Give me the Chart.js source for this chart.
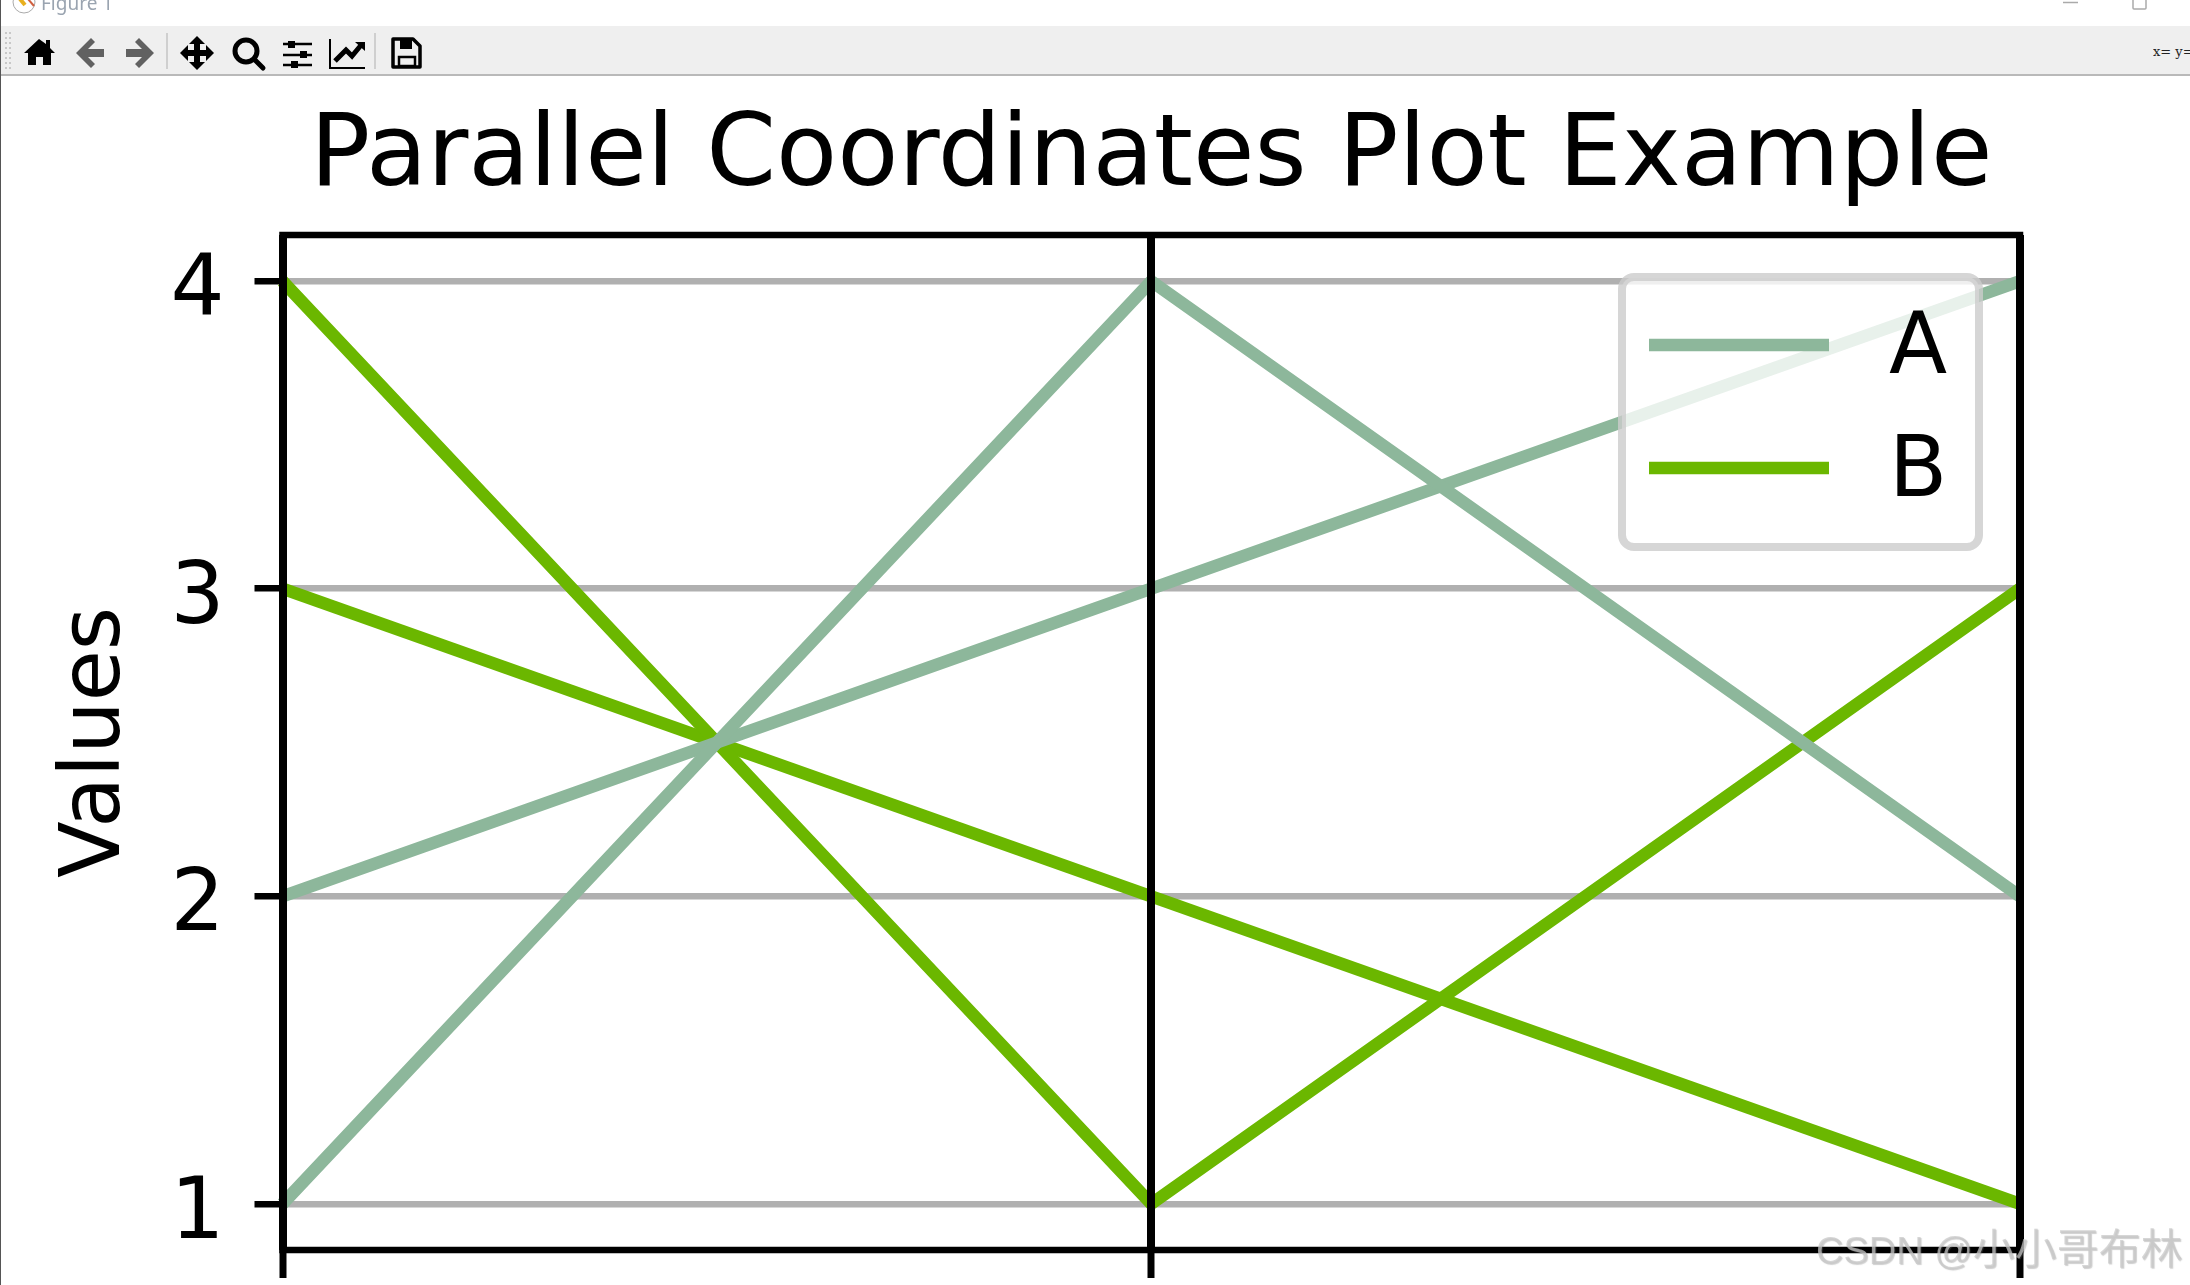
<!DOCTYPE html>
<html>
<head>
<meta charset="utf-8">
<title>Parallel Coordinates Plot Example</title>
<script src="https://cdn.jsdelivr.net/npm/chart.js@4"></script>
<style>
  html, body { margin: 0; padding: 0; background: #fff; overflow: hidden; }
  #wrap { position: relative; width: 2190px; height: 1285px; overflow: hidden; }
  #plot { position: absolute; left: 0; top: 0; }
  #edge { position: absolute; left: 0; top: 0; width: 1px; height: 1285px; background: #555; }
  #winTitle { position: absolute; left: 41px; top: -10px; font: 19px "Noto Sans", sans-serif; color: #9aa4b0; }
  #winIcon { position: absolute; left: 12px; top: -9px; }
  #toolbar { position: absolute; left: 1px; top: 26px; width: 2189px; height: 48px; background: #efefef; border-bottom: 2px solid #b9b9b9; }
  #toolbar svg { position: absolute; left: 0; top: 1.5px; }
  #coords { position: absolute; left: 2152px; top: 18px; font: 13px "DejaVu Serif", serif; color: #222; white-space: pre; width: 37px; overflow: hidden; }
  #mark { position: absolute; left: 1816px; top: 1215px; font: 38px "Liberation Sans", sans-serif; color: rgba(200,200,200,0.72); white-space: nowrap; text-shadow: 1px 1px 1px rgba(120,120,120,0.35); }
  #mark span { font: 42px "Noto Sans CJK SC", sans-serif; }
</style>
</head>
<body>
<div id="wrap">
  <canvas id="plot" width="2190" height="1285"></canvas>
  <div id="edge"></div>
  <svg id="winIcon" width="26" height="24" viewBox="0 0 26 24">
    <circle cx="12" cy="11" r="11" fill="#fff" stroke="#aaa"/>
    <path d="M8 8l5 6" stroke="#e8b020" stroke-width="4"/><path d="M16 8l6 7" stroke="#d06040" stroke-width="2"/>
  </svg>
  <div id="winTitle">Figure 1</div>
  <svg style="position:absolute;left:2060px;top:0" width="90" height="12" viewBox="0 0 90 12">
    <path d="M3 2.5h15" stroke="#aaa" stroke-width="1.5"/>
    <rect x="73" y="-4" width="13" height="13" rx="1" fill="none" stroke="#aaa" stroke-width="1.5"/>
  </svg>
  <div id="toolbar">
    <svg width="460" height="48" viewBox="0 0 460 48">
      <path d="M5 4v38M9 4v38" stroke="#c8c8c8" stroke-width="2" stroke-dasharray="2 3"/>
      <path d="M38 11l-15 14h4v12h8v-8h7v8h8V25h4l-5-5v-8h-4v4z" fill="#000"/>
      <path d="M90 10L75 25l15 15 4-4-7-7h16v-8H87l7-7z" fill="#616161"/>
      <path d="M138 10l15 15-15 15-4-4 7-7h-16v-8h16l-7-7z" fill="#616161"/>
      <path d="M196 8l8 8h-5v6h6v-5l8 8-8 8v-5h-6v6h5l-8 8-8-8h5v-6h-6v5l-8-8 8-8v5h6v-6h-5z" fill="#000"/>
      <circle cx="245" cy="23" r="11" fill="none" stroke="#000" stroke-width="5"/>
      <path d="M253 31l9 9" stroke="#000" stroke-width="5" stroke-linecap="round"/>
      <path d="M282 16h29M282 27h29M282 37h29" stroke="#000" stroke-width="2.5"/>
      <rect x="287" y="13" width="7" height="7" fill="#000"/><rect x="299" y="23" width="7" height="7" fill="#000"/><rect x="290" y="33" width="7" height="7" fill="#000"/>
      <path d="M329 11v29h35" fill="none" stroke="#000" stroke-width="2"/>
      <path d="M334 33l11-11 6 6 10-12" fill="none" stroke="#000" stroke-width="5"/><path d="M354 14h10v9z" fill="#000"/>
      <path d="M392 11h20l7 7v21h-27z" fill="none" stroke="#000" stroke-width="3.5" stroke-linejoin="round"/>
      <rect x="399" y="12" width="12" height="9" fill="#000"/><rect x="398" y="29" width="16" height="9" fill="none" stroke="#000" stroke-width="2.5"/>
      <path d="M166 5v36M374 5v36" stroke="#cfcfcf" stroke-width="2"/>
    </svg>
    <div id="coords">x= y=</div>
  </div>
  <div id="mark">CSDN @<span>小小哥布林</span></div>
</div>
<script>
const categories = ["", "", ""];
const yTicks = [1, 2, 3, 4];
const rowA1 = [1, 4, 2];
const rowA2 = [2, 3, 4];
const rowB1 = [4, 1, 3];
const rowB2 = [3, 2, 1];
const legendLabels = ["A", "B"];

const colorA = "#8db79b";
const colorB = "#6bb700";
const fontFamily = '"DejaVu Sans", sans-serif';

const makeRow = (label, data, color) => ({
  label,
  data,
  borderColor: color,
  borderWidth: 12.5,
  pointRadius: 0,
  tension: 0,
  fill: false,
});

// spines and the legend box sit on top of the lines
const framePlugin = {
  id: "frame",
  afterDraw(chart) {
    const { ctx, chartArea: a } = chart;
    ctx.save();
    ctx.strokeStyle = "#000";
    ctx.lineWidth = 6.5;
    ctx.strokeRect(a.left, a.top, a.right - a.left, a.bottom - a.top);

    ctx.beginPath();
    ctx.roundRect(1622, 277, 357, 270, 12);
    ctx.fillStyle = "rgba(255,255,255,0.8)";
    ctx.fill();
    ctx.strokeStyle = "rgba(204,204,204,0.8)";
    ctx.lineWidth = 8;
    ctx.stroke();

    ctx.font = `85px ${fontFamily}`;
    ctx.textBaseline = "alphabetic";
    ctx.textAlign = "left";
    legendLabels.forEach((label, i) => {
      const y = i === 0 ? 345 : 468;
      ctx.strokeStyle = i === 0 ? colorA : colorB;
      ctx.lineWidth = 12.7;
      ctx.beginPath();
      ctx.moveTo(1649, y);
      ctx.lineTo(1829, y);
      ctx.stroke();
      ctx.fillStyle = "#000";
      ctx.fillText(label, 1889, y + 28);
    });
    ctx.restore();
  },
};

new Chart(document.getElementById("plot"), {
  type: "line",
  data: {
    labels: categories,
    datasets: [
      makeRow("A", rowA1, colorA),
      makeRow("A", rowA2, colorA),
      makeRow("B", rowB1, colorB),
      makeRow("B", rowB2, colorB),
    ],
  },
  options: {
    responsive: false,
    animation: false,
    layout: { padding: { right: 170 } },
    plugins: {
      legend: { display: false },
      tooltip: { enabled: false },
      title: {
        display: true,
        text: "Parallel Coordinates Plot Example",
        color: "#000",
        fullSize: false,
        font: { family: fontFamily, size: 100, weight: "normal", lineHeight: 1 },
        padding: { top: 109, bottom: 26 },
      },
    },
    scales: {
      x: {
        offset: false,
        afterFit(scale) {
          scale.height = 35;
          scale.paddingLeft = 0;
          scale.paddingRight = 0;
        },
        border: { display: false },
        grid: { color: "#000", lineWidth: 8, tickColor: "#000", tickWidth: 7, tickLength: 28, z: 1 },
        ticks: { display: false },
      },
      y: {
        min: 0.85,
        max: 4.15,
        afterFit(scale) {
          scale.width = 282.5;
          scale.paddingTop = 0;
          scale.paddingBottom = 0;
        },
        afterBuildTicks(scale) {
          scale.ticks = yTicks.map((value) => ({ value }));
          // matplotlib centres digits a little lower than canvas "middle"
          const computeItems = scale._computeLabelItems;
          scale._computeLabelItems = function (area) {
            const items = computeItems.call(this, area);
            items.forEach((item) => { item.textOffset += 6; });
            return items;
          };
        },
        border: { display: false },
        grid: { color: "#b0b0b0", lineWidth: 6.5, tickColor: "#000", tickWidth: 6.5, tickLength: 28 },
        ticks: { color: "#000", font: { family: fontFamily, size: 85 }, padding: 30 },
        title: {
          display: true,
          text: "Values",
          color: "#000",
          font: { family: fontFamily, size: 83 },
          padding: { top: 48, bottom: 0 },
        },
      },
    },
  },
  plugins: [framePlugin],
});
</script>
</body>
</html>
